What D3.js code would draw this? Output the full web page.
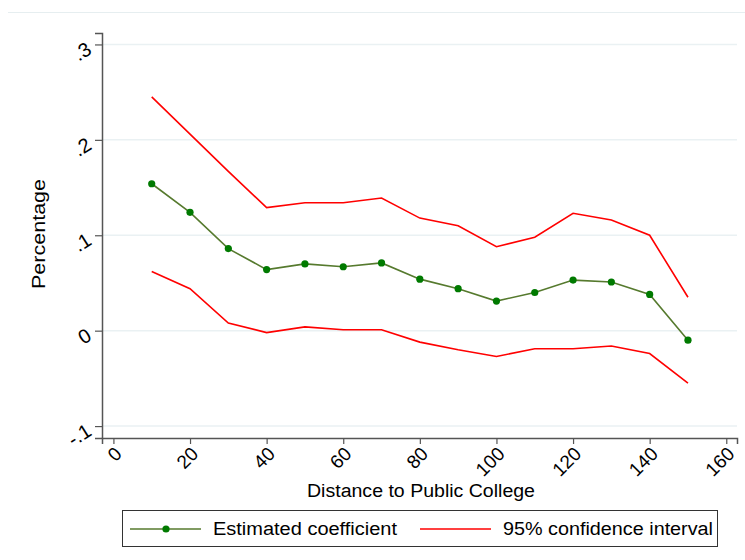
<!DOCTYPE html>
<html>
<head>
<meta charset="utf-8">
<script src="https://cdn.jsdelivr.net/npm/d3@7"></script>
<style>
  html, body { margin: 0; padding: 0; background: #ffffff; }
  svg { display: block; font-family: "Liberation Sans", Arial, sans-serif; }
</style>
</head>
<body>
<svg id="chart" width="745" height="560"></svg>
<script>
// ---- data ----
const distance = [10, 20, 30, 40, 50, 60, 70, 80, 90, 100, 110, 120, 130, 140, 150];
const coefficient = [0.154, 0.124, 0.086, 0.064, 0.070, 0.067, 0.071, 0.054, 0.044, 0.031, 0.040, 0.053, 0.051, 0.038, -0.010];
const upperCI = [0.245, 0.206, 0.167, 0.129, 0.134, 0.134, 0.139, 0.118, 0.110, 0.088, 0.098, 0.123, 0.116, 0.100, 0.035];
const lowerCI = [0.062, 0.044, 0.008, -0.002, 0.004, 0.001, 0.001, -0.012, -0.020, -0.027, -0.019, -0.019, -0.016, -0.024, -0.055];
const xTicks = [0, 20, 40, 60, 80, 100, 120, 140, 160];
const yTicks = [-0.1, 0, 0.1, 0.2, 0.3];
const yTickLabels = ["-.1", "0", ".1", ".2", ".3"];
const xTitle = "Distance to Public College";
const yTitle = "Percentage";
const legendLabels = ["Estimated coefficient", "95% confidence interval"];

// ---- layout ----
const svg = d3.select("#chart");
const x = d3.scaleLinear().domain([-2.98, 162.8]).range([102, 737]);
const y = d3.scaleLinear().domain([-0.1125, 0.312]).range([438, 33]);

const green = "#567a2e", markerGreen = "#007a00", red = "#ff0000";

// outer faint border line at top
svg.append("line").attr("x1", 8).attr("x2", 745).attr("y1", 12.5).attr("y2", 12.5)
  .attr("stroke", "#e6eef0").attr("stroke-width", 1);

// gridlines
svg.append("g").selectAll("line").data(yTicks).join("line")
  .attr("x1", 103).attr("x2", 737)
  .attr("y1", d => y(d)).attr("y2", d => y(d))
  .attr("stroke", "#eaf1f3").attr("stroke-width", 1.5);

// y axis
const yAxis = svg.append("g").attr("transform", "translate(102,0)")
  .call(d3.axisLeft(y).tickValues(yTicks).tickSize(7).tickPadding(8)
    .tickFormat((d, i) => yTickLabels[i]));
yAxis.select(".domain").attr("stroke", "#555").attr("stroke-width", 1.5);
yAxis.selectAll(".tick line").attr("stroke", "#555").attr("stroke-width", 1.2);
yAxis.selectAll(".tick text")
  .attr("x", null).attr("dy", null)
  .attr("font-size", 20).attr("fill", "#000")
  .attr("text-anchor", "end")
  .attr("transform", "translate(-9,8) rotate(-32)");

// x axis
const xAxis = svg.append("g").attr("transform", "translate(0,438)")
  .call(d3.axisBottom(x).tickValues(xTicks).tickSize(6).tickPadding(4));
xAxis.select(".domain").attr("stroke", "#555").attr("stroke-width", 1.5);
xAxis.selectAll(".tick line").attr("stroke", "#555").attr("stroke-width", 1.2);
xAxis.selectAll(".tick text")
  .attr("y", null).attr("dy", null)
  .attr("font-size", 19).attr("fill", "#000")
  .attr("text-anchor", "end")
  .attr("transform", "translate(9,17) rotate(-45)");

// axis titles
svg.append("text").attr("x", 421).attr("y", 497).attr("text-anchor", "middle")
  .attr("font-size", 18).attr("textLength", 228).attr("lengthAdjust", "spacingAndGlyphs")
  .text(xTitle);
svg.append("text").attr("transform", "translate(45,234) rotate(-90)").attr("text-anchor", "middle")
  .attr("font-size", 18).attr("textLength", 110).attr("lengthAdjust", "spacingAndGlyphs")
  .text(yTitle);

// lines
const lineGen = arr => d3.line().x((d, i) => x(distance[i])).y(d => y(d))(arr);
svg.append("path").attr("d", lineGen(upperCI)).attr("fill", "none").attr("stroke", red).attr("stroke-width", 1.6);
svg.append("path").attr("d", lineGen(lowerCI)).attr("fill", "none").attr("stroke", red).attr("stroke-width", 1.6);
svg.append("path").attr("d", lineGen(coefficient)).attr("fill", "none").attr("stroke", green).attr("stroke-width", 1.6);
svg.append("g").selectAll("circle").data(coefficient).join("circle")
  .attr("cx", (d, i) => x(distance[i])).attr("cy", d => y(d)).attr("r", 3.6)
  .attr("fill", markerGreen);

// legend
const lg = svg.append("g");
lg.append("rect").attr("x", 122.5).attr("y", 510.5).attr("width", 595).attr("height", 36)
  .attr("fill", "#fff").attr("stroke", "#333").attr("stroke-width", 1);
lg.append("line").attr("x1", 130).attr("x2", 201).attr("y1", 529).attr("y2", 529)
  .attr("stroke", green).attr("stroke-width", 1.6);
lg.append("circle").attr("cx", 166).attr("cy", 529).attr("r", 3.6).attr("fill", markerGreen);
lg.append("text").attr("x", 213).attr("y", 535).attr("font-size", 18)
  .attr("textLength", 184).attr("lengthAdjust", "spacingAndGlyphs").text(legendLabels[0]);
lg.append("line").attr("x1", 420).attr("x2", 491).attr("y1", 529).attr("y2", 529)
  .attr("stroke", red).attr("stroke-width", 1.6);
lg.append("text").attr("x", 503).attr("y", 535).attr("font-size", 18)
  .attr("textLength", 210).attr("lengthAdjust", "spacingAndGlyphs").text(legendLabels[1]);
</script>
</body>
</html>
